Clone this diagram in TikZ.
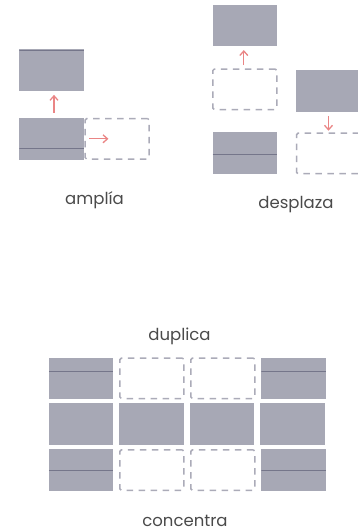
\documentclass[tikz,border=0pt]{standalone}
\usepackage{fontspec}
\setmainfont{Poppins}
\usetikzlibrary{arrows.meta, positioning, calc}

\definecolor{boxgray}{HTML}{A7A8B5}
\definecolor{seamgray}{HTML}{75768A}
\definecolor{dashgray}{HTML}{ABABB8}
\definecolor{arrowred}{HTML}{EA8585}
\definecolor{labelgray}{HTML}{4A4A4A}

\tikzset{
  block/.style={rectangle, fill=boxgray, minimum width=64.5pt, minimum height=41.5pt, inner sep=0pt},
  ghost/.style={rectangle, draw=dashgray, line width=1.5pt, dash pattern=on 6.5pt off 5.5pt,
    rounded corners=1.5pt, minimum width=64pt, minimum height=40.5pt, inner sep=0pt},
  seam/.style={path picture={\draw[seamgray, line width=0.9pt]
    ($(path picture bounding box.north west)!#1!(path picture bounding box.south west)$) --
    ($(path picture bounding box.north east)!#1!(path picture bounding box.south east)$);}},
  move/.style={arrowred, line width=1.3pt, -{Straight Barb[length=4.5pt, width=8pt]}},
  caption/.style={font=\fontsize{16.5}{19}\selectfont, text=labelgray}
}

\begin{document}
\begin{tikzpicture}[x=1pt, y=-1pt]
  \useasboundingbox (0,0) rectangle (357,532);

  % amplía
  \node[block, seam=0.74] (grow) at (51.5,138.8) {};
  \node[block, seam=0.02, above=27pt of grow] (grown) {};
  \node[ghost, right=0.5pt of grow] (growghost) {};
  \coordinate (growtip) at ([xshift=24pt]growghost.west);
  \draw[move, shorten <=5pt, shorten >=4pt] ([xshift=2.5pt]grow.north) -- ([xshift=2.5pt]grown.south);
  \draw[move] ([xshift=5pt]growghost.west) -- (growtip);
  \node[caption] (ampliatxt) at (94.5,200) {amplía};

  % desplaza
  \node[block, seam=0.54] (shift) at (244.8,152.8) {};
  \node[ghost, above=21.5pt of shift] (shiftghost) {};
  \node[block, above=21.7pt of shiftghost] (shifted) {};
  \node[block] (drop) at (328.5,90.8) {};
  \node[ghost, below=20.7pt of drop] (dropghost) {};
  \draw[move, shorten <=3.3pt, shorten >=3.4pt] ([xshift=-1pt]shiftghost.north) -- ([xshift=-1pt]shifted.south);
  \draw[move, shorten <=4pt, shorten >=1.7pt] (drop) -- (dropghost);
  \node[caption] (desplazatxt) at (296,205) {desplaza};

  % duplica
  \node[caption] (duplicatxt) at (179.5,336) {duplica};

  % concentra
  \node[block, seam=0.33] (c11) at (81.2,378.3) {};
  \node[ghost, right=5.5pt of c11] (c12) {};
  \node[ghost, right=5.5pt of c12] (c13) {};
  \node[block, seam=0.33, right=5.5pt of c13] (c14) {};
  \node[block, below=4pt of c11] (c21) {};
  \node[block, right=5.5pt of c21] (c22) {};
  \node[block, right=5.5pt of c22] (c23) {};
  \node[block, right=5.5pt of c23] (c24) {};
  \node[block, seam=0.52, below=4pt of c21] (c31) {};
  \node[ghost, right=5.5pt of c31] (c32) {};
  \node[ghost, right=5.5pt of c32] (c33) {};
  \node[block, seam=0.52, right=5.5pt of c33] (c34) {};
  \node[caption] (concentratxt) at (185,521) {concentra};
\end{tikzpicture}
\end{document}
